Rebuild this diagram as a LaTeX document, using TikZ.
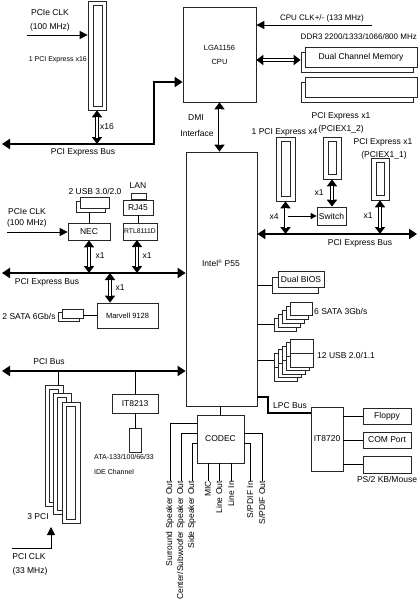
\documentclass[tikz,border=0pt]{standalone}
\usepackage{fontspec}
\setmainfont{Liberation Sans}
\usetikzlibrary{arrows.meta,calc}
\begin{document}
\begin{tikzpicture}[x=1pt,y=-1pt,
  font=\fontsize{8.5}{10}\selectfont,
  box/.style={draw=black!85, line width=0.7pt, fill=white, inner sep=0pt},
  lbl/.style={inner sep=0pt},
  wire/.style={draw, line width=0.8pt},
  bus/.style={draw, line width=2pt, {Triangle[length=8pt,width=10pt]}-{Triangle[length=8pt,width=10pt]}},
  arr/.style={draw, line width=0.8pt, -{Triangle[length=8pt,width=8pt]}},
  sarr/.style={draw, line width=0.8pt, -{Triangle[length=6pt,width=6pt]}},
  dbl/.style={draw, line width=3.6pt, {Triangle[length=7pt,width=10pt]}-{Triangle[length=7pt,width=10pt]},
    postaction={draw=white, line width=2pt, shorten <=6.5pt, shorten >=6.5pt, -}},
]
\useasboundingbox (0,0) rectangle (418,600);

% ---------- CPU and memory ----------
\node[box, minimum width=73, minimum height=95, align=center, font=\fontsize{7.5}{9}\selectfont] (cpu) at (219.5,54.5) {LGA1156\\[5pt]CPU};
\node[box, minimum width=112, minimum height=20] (mem1b) at (357,62) {};
\node[box, minimum width=112, minimum height=20] (mem1) at (361,57) {Dual Channel Memory};
\node[box, minimum width=112, minimum height=20] (mem2b) at (357,92) {};
\node[box, minimum width=112, minimum height=20] (mem2) at (361,87) {};
\node[lbl, font=\fontsize{8}{9}\selectfont] (tcpuclk) at (322,18) {CPU CLK+/- (133 MHz)};
\node[lbl, font=\fontsize{8}{9}\selectfont, anchor=east] (tddr) at (417,37) {DDR3 2200/1333/1066/800 MHz};
\coordinate (clkst) at (372,25);
\draw[arr] (clkst) -- (clkst -| cpu.east);
\coordinate (memy) at (0,60);
\draw[dbl] (cpu.east |- memy) -- (mem1b.west |- memy);

% ---------- PCIe x16 ----------
\node[box, minimum width=18, minimum height=109] (x16) at (97,55.5) {};
\node[box, minimum width=9, minimum height=101] (x16i) at (97.5,55.5) {};
\node[lbl] (tclk1a) at (50,13) {PCIe CLK};
\node[lbl] (tclk1b) at (50,27) {(100 MHz)};
\coordinate (clk1) at (27,35);
\draw[arr] (clk1) -- (clk1 -| x16.west);
\node[lbl, font=\fontsize{7}{8}\selectfont, anchor=east] (tx16) at (87,60) {1 PCI Express x16};
\coordinate (b1L) at (2,144);
\coordinate (b1C) at (154,144);
\coordinate (y82) at (0,82);
\draw[bus] (b1L) -- (b1C) |- (cpu.west |- y82);
\draw[dbl] (x16.south) -- (x16.south |- b1C);
\node[lbl] (tx16b) at (107,127) {x16};
\node[lbl] (tbus1) at (83,152) {PCI Express Bus};

% ---------- DMI and P55 ----------
\node[box, minimum width=71, minimum height=254] (p55) at (221.5,279) {};
\node[lbl] (p55t) at (221,263) {Intel\textsuperscript{\fontsize{5}{5}\selectfont ®} P55};
\draw[dbl] (cpu.south) -- (cpu.south |- p55.north);
\node[lbl] (tdmi) at (196,118) {DMI};
\node[lbl] (tint) at (197,133) {Interface};

% ---------- right PCIe slots ----------
\node[box, minimum width=19, minimum height=64] (x4) at (285.5,169) {};
\node[box, minimum width=9, minimum height=55] (x4i) at (285.5,169) {};
\node[box, minimum width=18, minimum height=42] (x12) at (332,158) {};
\node[box, minimum width=8, minimum height=33] (x12i) at (332,158) {};
\node[box, minimum width=18, minimum height=42] (x11) at (380,179) {};
\node[box, minimum width=8, minimum height=33] (x11i) at (380,179) {};
\node[box, minimum width=29, minimum height=18] (sw) at (331.5,216) {Switch};
\node[lbl] (tx4) at (284.5,132) {1 PCI Express x4};
\node[lbl] (tx12a) at (341,116) {PCI Express x1};
\node[lbl] (tx12b) at (341,129) {(PCIEX1\_2)};
\node[lbl] (tx11a) at (383,142) {PCI Express x1};
\node[lbl] (tx11b) at (384,155) {(PCIEX1\_1)};
\coordinate (busR) at (417,234);
\draw[bus] (p55.east |- busR) -- (busR);
\node[lbl] (tbusR) at (360,243) {PCI Express Bus};
\draw[dbl] (x4.south) -- (x4.south |- busR);
\coordinate (swy) at (288,216);
\draw[sarr] (swy) -- (swy -| sw.west);
\draw[dbl] (x12.south) -- (x12.south |- sw.north);
\draw[dbl] (x11.south) -- (x11.south |- busR);
\node[lbl] (tlx4) at (274,217) {x4};
\node[lbl] (tlx12) at (319,193) {x1};
\node[lbl] (tlx11) at (368,216) {x1};

% ---------- left middle ----------
\node[box, minimum width=29, minimum height=11] (usbb) at (90.5,206.5) {};
\node[box, minimum width=29, minimum height=11] (usbf) at (94.5,202.5) {};
\node[lbl] (tusb3) at (95,191) {2 USB 3.0/2.0};
\node[box, minimum width=15, minimum height=6] (lan) at (138.5,196) {};
\node[lbl] (tlan) at (138,186) {LAN};
\node[box, minimum width=30, minimum height=15] (rj) at (138,207.5) {RJ45};
\node[box, minimum width=42, minimum height=17] (nec) at (89,231.5) {NEC};
\node[box, minimum width=34, minimum height=17, font=\fontsize{6.8}{8}\selectfont] (rtl) at (140,231.5) {RTL8111D};
\draw[wire] (nec.north) -- (nec.north |- usbb.south);
\draw[wire] (rj.south) -- (rj.south |- rtl.north);
\node[lbl] (tclk2a) at (27,212) {PCIe CLK};
\node[lbl] (tclk2b) at (27,223) {(100 MHz)};
\coordinate (clk2) at (7,232);
\draw[arr] (clk2) -- (clk2 -| nec.west);
\coordinate (b2L) at (2,273);
\draw[bus] (b2L) -- (b2L -| p55.west);
\node[lbl] (tbus2) at (47,282) {PCI Express Bus};
\draw[dbl] (nec.south) -- (nec.south |- b2L);
\coordinate (rtlx) at (137,240);
\draw[dbl] (rtlx) -- (rtlx |- b2L);
\node[lbl] (tlnec) at (100,256) {x1};
\node[lbl] (tlrtl) at (147,256) {x1};
\node[box, minimum width=61, minimum height=25, font=\fontsize{7.5}{9}\selectfont] (mv) at (127.5,315.5) {Marvell 9128};
\coordinate (mvx) at (110,273);
\draw[dbl] (mvx) -- (mvx |- mv.north);
\node[lbl] (tlmv) at (120,288) {x1};
\node[box, minimum width=21, minimum height=9] (sata2b) at (68.5,316.5) {};
\node[box, minimum width=21, minimum height=9] (sata2f) at (72.5,313.5) {};
\node[lbl] (tsata2) at (29,316) {2 SATA 6Gb/s};
\draw[wire] (mv.west) -- (mv.west -| sata2f.east);

% ---------- PCI bus ----------
\coordinate (b3L) at (2,371);
\draw[bus] (b3L) -- (b3L -| p55.west);
\node[lbl] (tpcibus) at (49,362) {PCI Bus};
\foreach \i in {0,1,2} {
  \node[box, minimum width=18, minimum height=121] (pci\i) at ({54+8.5*\i},{445.5+8.5*\i}) {};
  \node[box, minimum width=9, minimum height=113] (pcii\i) at ({53.5+8.5*\i},{445.5+8.5*\i}) {};
}
\coordinate (pcix) at (58,371);
\draw[wire] (pcix) -- (pcix |- pci0.north);
\node[lbl] (t3pci) at (38,517) {3 PCI};
\coordinate (pciclk1) at (12,548);
\coordinate (pciclk2) at (51,548);
\coordinate (pciclk3) at (51,527);
\draw[arr] (pciclk1) -- (pciclk2) -- (pciclk3);
\node[lbl] (tpciclka) at (29,557) {PCI CLK};
\node[lbl] (tpciclkb) at (30,571) {(33 MHz)};
\node[box, minimum width=46, minimum height=19] (ite) at (135,403.5) {IT8213};
\draw[wire] (ite.north) -- (ite.north |- b3L);
\node[box, minimum width=12, minimum height=24] (ide) at (135,440) {};
\draw[wire] (ite.south) -- (ide.north);
\node[lbl, anchor=west, font=\fontsize{7}{8}\selectfont] (tata) at (94,457) {ATA-133/100/66/33};
\node[lbl, anchor=west, font=\fontsize{7}{8}\selectfont] (tide) at (94,472) {IDE Channel};

% ---------- right of P55 ----------
\node[box, minimum width=46, minimum height=16] (biosb) at (295,285) {};
\node[box, minimum width=46, minimum height=16] (bios) at (301,279) {Dual BIOS};
\draw[wire] (biosb.west) -- (biosb.west -| p55.east);
\foreach \i in {4,3,2,1,0} {
  \node[box, minimum width=22, minimum height=13] (s6\i) at ({301-4*\i},{308.5+4*\i}) {};
}
\draw[wire] (s64.west) -- (s64.west -| p55.east);
\node[lbl, anchor=west] (tsata6) at (314,311) {6 SATA 3Gb/s};
\foreach \i in {4,3,2,1,0} {
  \node[box, minimum width=23, minimum height=14] (uu\i) at ({301.5-4*\i},{346+3.5*\i}) {};
}
\foreach \i in {4,3,2,1,0} {
  \node[box, minimum width=23, minimum height=14] (ul\i) at ({301.5-4*\i},{360+3.5*\i}) {};
}
\draw[wire] (uu4.west) -- (uu4.west -| p55.east);
\node[lbl, anchor=west] (tusb12) at (317,355) {12 USB 2.0/1.1};

% ---------- LPC / IT8720 ----------
\node[box, minimum width=32, minimum height=64] (sio) at (327,439) {IT8720};
\node[box, minimum width=48, minimum height=16] (fdd) at (387,416) {Floppy};
\node[box, minimum width=48, minimum height=16] (com) at (387,440) {COM Port};
\node[box, minimum width=48, minimum height=17] (ps2) at (387,464.5) {};
\node[lbl] (tps2) at (387,479) {PS/2 KB/Mouse};
\draw[wire] (fdd.west) -- (fdd.west -| sio.east);
\draw[wire] (com.west) -- (com.west -| sio.east);
\draw[wire] (ps2.west) -- (ps2.west -| sio.east);
\coordinate (lpc1) at (268,397);
\coordinate (lpc2) at (268,413);
\draw[line width=2.5pt] (p55.east |- lpc1) -- (lpc1) -- (lpc2) -- (lpc2 -| sio.west);
\node[lbl] (tlpc) at (290,406) {LPC Bus};

% ---------- CODEC ----------
\node[box, minimum width=47, minimum height=48] (codec) at (220.5,439) {CODEC};
\draw[wire] (codec.north) -- (codec.north |- p55.south);
\node[lbl, rotate=90, anchor=east] (a1) at (170,481) {Surround Speaker Out};
\node[lbl, rotate=90, anchor=east] (a2) at (181,481) {Center/Subwoofer Speaker Out};
\node[lbl, rotate=90, anchor=east] (a3) at (192,481) {Side Speaker Out};
\node[lbl, rotate=90, anchor=east] (a4) at (208,481) {MIC};
\node[lbl, rotate=90, anchor=east] (a5) at (219,481) {Line Out};
\node[lbl, rotate=90, anchor=east] (a6) at (231,481) {Line In};
\node[lbl, rotate=90, anchor=east] (a7) at (250,481) {S/PDIF In};
\node[lbl, rotate=90, anchor=east] (a8) at (262,481) {S/PDIF Out};
\coordinate (cy1) at (0,423);
\coordinate (cy2) at (0,433);
\coordinate (cy3) at (0,443);
\draw[wire] (codec.west |- cy1) -| (a1.east);
\draw[wire] (codec.west |- cy2) -| (a2.east);
\draw[wire] (codec.west |- cy3) -| (a3.east);
\draw[wire] (a4.east |- codec.south) -- (a4.east);
\draw[wire] (a5.east |- codec.south) -- (a5.east);
\draw[wire] (a6.east |- codec.south) -- (a6.east);
\draw[wire] (codec.east |- cy3) -| (a7.east);
\draw[wire] (codec.east |- cy2) -| (a8.east);
\end{tikzpicture}
\end{document}
